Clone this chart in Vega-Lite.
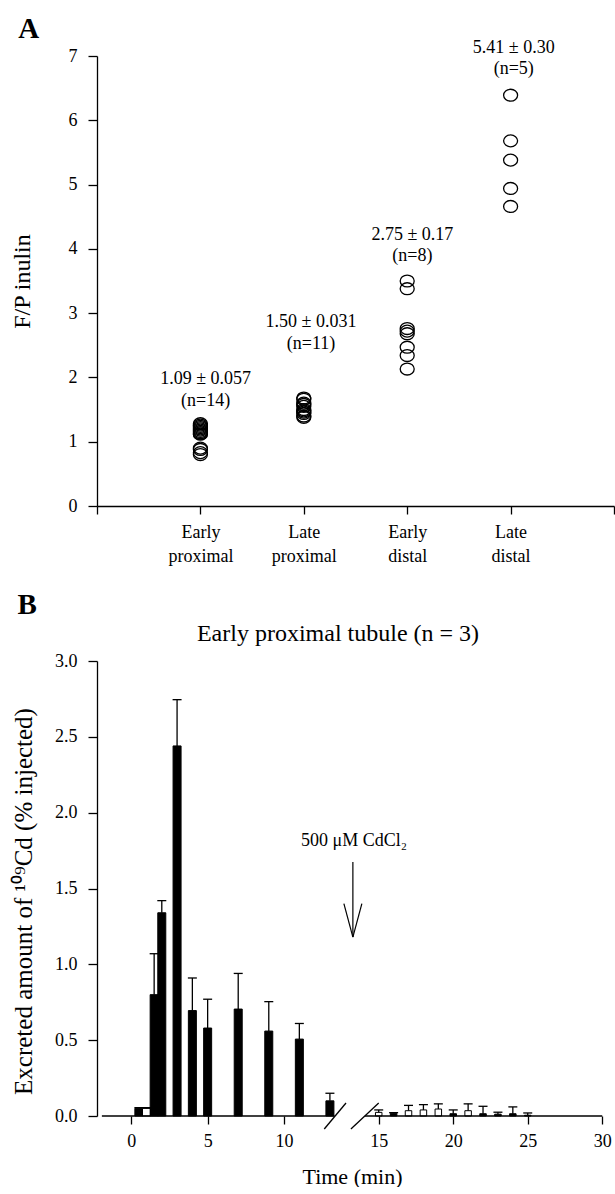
{
  "$schema": "https://vega.github.io/schema/vega-lite/v6.json",
  "padding": {"left": 10, "top": 14, "right": 0, "bottom": 0},
  "background": "white",
  "config": {
    "font": "Liberation Serif",
    "view": {"stroke": null},
    "axis": {
      "grid": false,
      "domainColor": "black",
      "tickColor": "black",
      "labelColor": "black",
      "titleColor": "black",
      "labelFont": "Liberation Serif",
      "titleFont": "Liberation Serif",
      "labelFontSize": 18,
      "titleFontSize": 22,
      "titleFontWeight": "normal",
      "tickSize": 9,
      "labelPadding": 11,
      "domainWidth": 1.3,
      "tickWidth": 1.3,
      "labelFlush": false
    },
    "text": {"font": "Liberation Serif", "color": "black"},
    "title": {"font": "Liberation Serif", "fontWeight": "normal", "fontSize": 23, "color": "black"}
  },
  "datasets": {
    "points": [
      {"segment": "Early proximal", "pos": 1, "fp": 1.28},
      {"segment": "Early proximal", "pos": 1, "fp": 1.26},
      {"segment": "Early proximal", "pos": 1, "fp": 1.24},
      {"segment": "Early proximal", "pos": 1, "fp": 1.22},
      {"segment": "Early proximal", "pos": 1, "fp": 1.2},
      {"segment": "Early proximal", "pos": 1, "fp": 1.18},
      {"segment": "Early proximal", "pos": 1, "fp": 1.16},
      {"segment": "Early proximal", "pos": 1, "fp": 1.14},
      {"segment": "Early proximal", "pos": 1, "fp": 1.12},
      {"segment": "Early proximal", "pos": 1, "fp": 1.12},
      {"segment": "Early proximal", "pos": 1, "fp": 0.9},
      {"segment": "Early proximal", "pos": 1, "fp": 0.88},
      {"segment": "Early proximal", "pos": 1, "fp": 0.83},
      {"segment": "Early proximal", "pos": 1, "fp": 0.8},
      {"segment": "Late proximal", "pos": 2, "fp": 1.68},
      {"segment": "Late proximal", "pos": 2, "fp": 1.66},
      {"segment": "Late proximal", "pos": 2, "fp": 1.6},
      {"segment": "Late proximal", "pos": 2, "fp": 1.58},
      {"segment": "Late proximal", "pos": 2, "fp": 1.55},
      {"segment": "Late proximal", "pos": 2, "fp": 1.5},
      {"segment": "Late proximal", "pos": 2, "fp": 1.48},
      {"segment": "Late proximal", "pos": 2, "fp": 1.46},
      {"segment": "Late proximal", "pos": 2, "fp": 1.44},
      {"segment": "Late proximal", "pos": 2, "fp": 1.4},
      {"segment": "Late proximal", "pos": 2, "fp": 1.38},
      {"segment": "Early distal", "pos": 3, "fp": 3.5},
      {"segment": "Early distal", "pos": 3, "fp": 3.38},
      {"segment": "Early distal", "pos": 3, "fp": 2.76},
      {"segment": "Early distal", "pos": 3, "fp": 2.72},
      {"segment": "Early distal", "pos": 3, "fp": 2.68},
      {"segment": "Early distal", "pos": 3, "fp": 2.47},
      {"segment": "Early distal", "pos": 3, "fp": 2.34},
      {"segment": "Early distal", "pos": 3, "fp": 2.13},
      {"segment": "Late distal", "pos": 4, "fp": 6.39},
      {"segment": "Late distal", "pos": 4, "fp": 5.68},
      {"segment": "Late distal", "pos": 4, "fp": 5.38},
      {"segment": "Late distal", "pos": 4, "fp": 4.94},
      {"segment": "Late distal", "pos": 4, "fp": 4.66}
    ],
    "notesA": [
      {"pos": 1.05, "fp": 1.97, "label": "1.09 ± 0.057"},
      {"pos": 1.05, "fp": 1.63, "label": "(n=14)"},
      {"pos": 2.07, "fp": 2.86, "label": "1.50 ± 0.031"},
      {"pos": 2.07, "fp": 2.52, "label": "(n=11)"},
      {"pos": 3.05, "fp": 4.22, "label": "2.75 ± 0.17"},
      {"pos": 3.05, "fp": 3.89, "label": "(n=8)"},
      {"pos": 4.03, "fp": 7.13, "label": "5.41 ± 0.30"},
      {"pos": 4.03, "fp": 6.8, "label": "(n=5)"}
    ],
    "bars": [
      {"t": 0.5, "v": 0.05, "up": 0.055, "kind": "filled"},
      {"t": 1.0, "v": 0.05, "up": 0.055, "kind": "open"},
      {"t": 1.5, "v": 0.8, "up": 1.07, "kind": "filled"},
      {"t": 2, "v": 1.34, "up": 1.42, "kind": "filled"},
      {"t": 3, "v": 2.44, "up": 2.745, "kind": "filled"},
      {"t": 4, "v": 0.695, "up": 0.91, "kind": "filled"},
      {"t": 5, "v": 0.58, "up": 0.77, "kind": "filled"},
      {"t": 7, "v": 0.705, "up": 0.94, "kind": "filled"},
      {"t": 9, "v": 0.56, "up": 0.754, "kind": "filled"},
      {"t": 11, "v": 0.507, "up": 0.61, "kind": "filled"},
      {"t": 13, "v": 0.1, "up": 0.15, "kind": "filled"},
      {"t": 15, "v": 0.024, "up": 0.04, "kind": "open"},
      {"t": 16, "v": 0.018, "up": 0.022, "kind": "filled"},
      {"t": 17, "v": 0.035, "up": 0.07, "kind": "open"},
      {"t": 18, "v": 0.04, "up": 0.075, "kind": "open"},
      {"t": 19, "v": 0.046, "up": 0.08, "kind": "open"},
      {"t": 20, "v": 0.015, "up": 0.04, "kind": "filled"},
      {"t": 21, "v": 0.035, "up": 0.08, "kind": "open"},
      {"t": 22, "v": 0.015, "up": 0.064, "kind": "filled"},
      {"t": 23, "v": 0.012, "up": 0.025, "kind": "filled"},
      {"t": 24, "v": 0.015, "up": 0.06, "kind": "filled"},
      {"t": 25, "v": 0.005, "up": 0.02, "kind": "filled"}
    ],
    "axisSegs": [
      {"t": -1.92, "t2": 13.3, "v": 0},
      {"t": 14.08, "t2": 30, "v": 0}
    ],
    "slashes": [
      {"t": 12.63, "t2": 13.594, "v": -0.0857, "v2": 0.0857},
      {"t": 13.72, "t2": 15.0, "v": -0.0857, "v2": 0.0857}
    ],
    "arrow": [
      {"t": 13.77, "t2": 13.77, "v": 1.674, "v2": 1.18},
      {"t": 13.54, "t2": 13.77, "v": 1.4, "v2": 1.18},
      {"t": 14.0, "t2": 13.77, "v": 1.4, "v2": 1.18}
    ]
  },
  "bounds": "flush",
  "spacing": 155,
  "vconcat": [
    {
      "width": 517,
      "height": 450,
      "layer": [
        {
          "data": {"name": "points"},
          "mark": {"type": "point", "shape": "M -1 0 A 1 0.85 0 1 0 1 0 A 1 0.85 0 1 0 -1 0 Z", "size": 196, "filled": false, "stroke": "black", "strokeWidth": 1.3, "opacity": 1},
          "encoding": {
            "x": {
              "field": "pos", "type": "quantitative",
              "scale": {"domain": [0, 5], "nice": false, "zero": false},
              "axis": {
                "values": [0, 1, 2, 3, 4, 5],
                "title": null,
                "labelExpr": "datum.value == 1 ? ['Early','proximal'] : datum.value == 2 ? ['Late','proximal'] : datum.value == 3 ? ['Early','distal'] : datum.value == 4 ? ['Late','distal'] : ''",
                "labelLineHeight": 24,
                "labelPadding": 9,
                "tickSize": 8
              }
            },
            "y": {
              "field": "fp", "type": "quantitative",
              "scale": {"domain": [0, 7], "nice": false},
              "axis": {"values": [0, 1, 2, 3, 4, 5, 6, 7], "format": "d", "title": "F/P inulin", "titleFontSize": 24, "titleX": -75, "titleBaseline": "middle"}
            }
          }
        },
        {
          "data": {"name": "notesA"},
          "mark": {"type": "text", "fontSize": 18, "baseline": "middle", "align": "center"},
          "encoding": {
            "x": {"field": "pos", "type": "quantitative", "scale": {"domain": [0, 5], "nice": false, "zero": false}},
            "y": {"field": "fp", "type": "quantitative", "scale": {"domain": [0, 7], "nice": false}},
            "text": {"field": "label"}
          }
        },
        {
          "data": {"values": [{"pos": -0.66, "fp": 7.42, "label": "A"}]},
          "mark": {"type": "text", "fontSize": 29, "fontWeight": "bold", "baseline": "middle", "align": "center"},
          "encoding": {
            "x": {"field": "pos", "type": "quantitative", "scale": {"domain": [0, 5], "nice": false, "zero": false}},
            "y": {"field": "fp", "type": "quantitative", "scale": {"domain": [0, 7], "nice": false}},
            "text": {"field": "label"}
          }
        }
      ]
    },
    {
      "width": 510,
      "height": 455,
      "layer": [
        {
          "data": {"name": "bars"},
          "transform": [{"filter": "datum.t < 14"}],
          "mark": {"type": "bar", "width": 8, "stroke": "black", "strokeWidth": 1},
          "encoding": {
            "x": {
              "field": "t", "type": "quantitative",
              "scale": {"domain": [-1.92, 13.3, 14.08, 30], "range": [0, 237.5, 268, 510], "nice": false, "zero": false},
              "axis": {"values": [0, 5, 10, 15, 20, 25, 30], "domain": false, "title": "Time (min)", "tickSize": 8, "labelPadding": 8, "titlePadding": 16}
            },
            "y": {
              "field": "v", "type": "quantitative",
              "scale": {"domain": [0, 3], "nice": false},
              "axis": {"values": [0, 0.5, 1, 1.5, 2, 2.5, 3], "format": ".1f", "title": "Excreted amount of ¹⁰⁹Cd (% injected)", "titleFontSize": 25, "titleX": -74, "titleY": 240, "titleBaseline": "middle"}
            },
            "color": {"field": "kind", "type": "nominal", "scale": {"domain": ["filled", "open"], "range": ["black", "white"]}, "legend": null}
          }
        },
        {
          "data": {"name": "bars"},
          "transform": [{"filter": "datum.t > 14"}],
          "mark": {"type": "bar", "width": 6.5, "stroke": "black", "strokeWidth": 1},
          "encoding": {
            "x": {"field": "t", "type": "quantitative", "scale": {"domain": [-1.92, 13.3, 14.08, 30], "range": [0, 237.5, 268, 510], "nice": false, "zero": false}},
            "y": {"field": "v", "type": "quantitative", "scale": {"domain": [0, 3], "nice": false}},
            "color": {"field": "kind", "type": "nominal", "scale": {"domain": ["filled", "open"], "range": ["black", "white"]}, "legend": null}
          }
        },
        {
          "data": {"name": "bars"},
          "mark": {"type": "rule", "color": "black", "strokeWidth": 1.3},
          "encoding": {
            "x": {"field": "t", "type": "quantitative", "scale": {"domain": [-1.92, 13.3, 14.08, 30], "range": [0, 237.5, 268, 510], "nice": false, "zero": false}},
            "y": {"field": "v", "type": "quantitative", "scale": {"domain": [0, 3], "nice": false}},
            "y2": {"field": "up"}
          }
        },
        {
          "data": {"name": "bars"},
          "mark": {"type": "tick", "color": "black", "orient": "horizontal", "size": 9, "thickness": 1.3, "opacity": 1},
          "encoding": {
            "x": {"field": "t", "type": "quantitative", "scale": {"domain": [-1.92, 13.3, 14.08, 30], "range": [0, 237.5, 268, 510], "nice": false, "zero": false}},
            "y": {"field": "up", "type": "quantitative", "scale": {"domain": [0, 3], "nice": false}}
          }
        },
        {
          "data": {"name": "axisSegs"},
          "mark": {"type": "rule", "color": "black", "strokeWidth": 1.3},
          "encoding": {
            "x": {"field": "t", "type": "quantitative", "scale": {"domain": [-1.92, 13.3, 14.08, 30], "range": [0, 237.5, 268, 510], "nice": false, "zero": false}},
            "x2": {"field": "t2"},
            "y": {"field": "v", "type": "quantitative", "scale": {"domain": [0, 3], "nice": false}}
          }
        },
        {
          "data": {"name": "slashes"},
          "mark": {"type": "rule", "color": "black", "strokeWidth": 1.3},
          "encoding": {
            "x": {"field": "t", "type": "quantitative", "scale": {"domain": [-1.92, 13.3, 14.08, 30], "range": [0, 237.5, 268, 510], "nice": false, "zero": false}},
            "x2": {"field": "t2"},
            "y": {"field": "v", "type": "quantitative", "scale": {"domain": [0, 3], "nice": false}},
            "y2": {"field": "v2"}
          }
        },
        {
          "data": {"name": "arrow"},
          "mark": {"type": "rule", "color": "black", "strokeWidth": 1.2},
          "encoding": {
            "x": {"field": "t", "type": "quantitative", "scale": {"domain": [-1.92, 13.3, 14.08, 30], "range": [0, 237.5, 268, 510], "nice": false, "zero": false}},
            "x2": {"field": "t2"},
            "y": {"field": "v", "type": "quantitative", "scale": {"domain": [0, 3], "nice": false}},
            "y2": {"field": "v2"}
          }
        },
        {
          "data": {"values": [{"t": 13.8, "v": 1.81, "label": "500 μM CdCl₂"}]},
          "mark": {"type": "text", "baseline": "middle", "align": "center", "fontSize": 18},
          "encoding": {
            "x": {"field": "t", "type": "quantitative", "scale": {"domain": [-1.92, 13.3, 14.08, 30], "range": [0, 237.5, 268, 510], "nice": false, "zero": false}},
            "y": {"field": "v", "type": "quantitative", "scale": {"domain": [0, 3], "nice": false}},
            "text": {"field": "label"}
          }
        },
        {
          "data": {"values": [{"t": 13.39, "v": 3.177, "label": "Early proximal tubule (n = 3)"}]},
          "mark": {"type": "text", "baseline": "middle", "align": "center", "fontSize": 24},
          "encoding": {
            "x": {"field": "t", "type": "quantitative", "scale": {"domain": [-1.92, 13.3, 14.08, 30], "range": [0, 237.5, 268, 510], "nice": false, "zero": false}},
            "y": {"field": "v", "type": "quantitative", "scale": {"domain": [0, 3], "nice": false}},
            "text": {"field": "label"}
          }
        },
        {
          "data": {"values": [{"t": -6.8, "v": 3.368, "label": "B"}]},
          "mark": {"type": "text", "baseline": "middle", "align": "center", "fontSize": 29, "fontWeight": "bold"},
          "encoding": {
            "x": {"field": "t", "type": "quantitative", "scale": {"domain": [-1.92, 13.3, 14.08, 30], "range": [0, 237.5, 268, 510], "nice": false, "zero": false}},
            "y": {"field": "v", "type": "quantitative", "scale": {"domain": [0, 3], "nice": false}},
            "text": {"field": "label"}
          }
        }
      ]
    }
  ]
}
